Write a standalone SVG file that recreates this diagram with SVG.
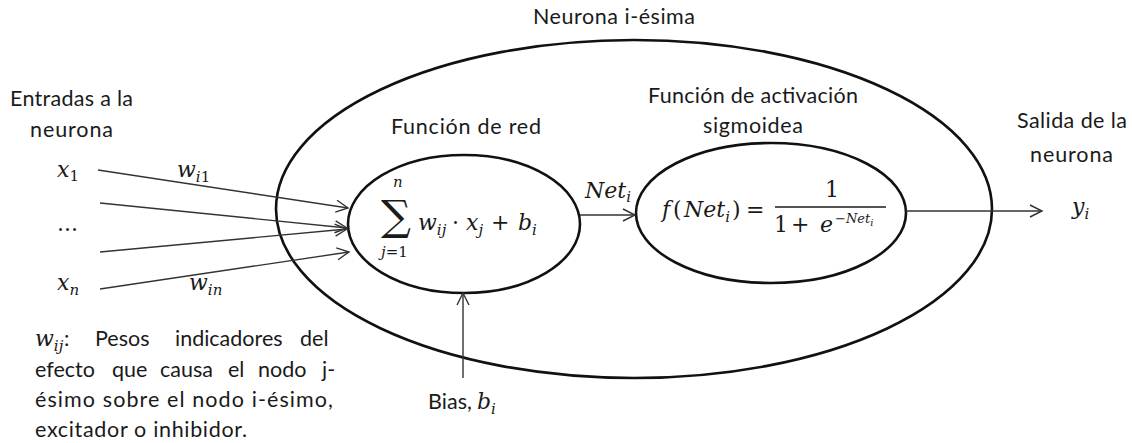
<svg xmlns="http://www.w3.org/2000/svg" width="1132" height="443" viewBox="0 0 1132 443">
<style>
.t{font-family:Lato,"Liberation Sans",sans-serif;font-size:21.5px;fill:#1a1a1a}
.m{font-family:"DejaVu Serif","Liberation Serif",serif;font-style:italic;font-size:22px;fill:#1a1a1a}
.mr{font-family:"DejaVu Serif","Liberation Serif",serif;font-style:normal;font-size:22px;fill:#1a1a1a}
.s{font-size:15px}
.ss{font-size:13px}
.ell{fill:none;stroke:#111;stroke-width:2.6}
.con{fill:none;stroke:#333;stroke-width:1.4}
</style>
<defs>
<marker id="ah" markerUnits="userSpaceOnUse" markerWidth="14" markerHeight="14" refX="12" refY="6" orient="auto" viewBox="0 0 14 14" overflow="visible">
<path d="M0,0 L12,6 L0,12" fill="none" stroke="#333" stroke-width="1.4"/>
</marker>
</defs>
<rect width="1132" height="443" fill="#fff"/>

<g id="neurona">
<ellipse class="ell" cx="634" cy="209" rx="358" ry="169"/>
<text class="t" x="533" y="24" textLength="162">Neurona i-ésima</text>
</g>

<g id="funcion-red">
<ellipse class="ell" cx="464" cy="224" rx="116" ry="69"/>
<text class="t" x="391" y="134" textLength="150">Función de red</text>
<text class="mr" x="381" y="230" style="font-size:42px">∑</text>
<text class="m s" x="393" y="187">n</text>
<text class="mr s" x="381" y="257"><tspan font-style="italic">j</tspan>=1</text>
<text class="m" x="418" y="230">w<tspan class="s" dy="5">ij</tspan></text>
<text class="mr" x="452" y="230">·</text>
<text class="m" x="466" y="230">x<tspan class="s" dy="5">j</tspan></text>
<text class="mr" x="491" y="230">+</text>
<text class="m" x="518" y="230">b<tspan class="s" dy="5">i</tspan></text>
</g>

<g id="funcion-activacion">
<ellipse class="ell" cx="771" cy="213" rx="135" ry="70"/>
<text class="t" x="648" y="103" textLength="210">Función de activación</text>
<text class="t" x="703" y="133" textLength="100">sigmoidea</text>
<text class="m" x="662" y="217">f</text>
<text class="mr" x="673" y="217">(</text>
<text class="m" x="684" y="217">Net<tspan class="s" dy="5">i</tspan></text>
<text class="mr" x="732" y="217">)</text>
<text class="mr" x="746" y="217">=</text>
<text class="mr" x="832" y="197" text-anchor="middle">1</text>
<line x1="775" y1="207" x2="886" y2="207" stroke="#1a1a1a" stroke-width="1.5"/>
<text class="mr" x="774" y="232">1</text>
<text class="mr" x="791" y="232">+</text>
<text class="m" x="820" y="232">e</text>
<text class="mr ss" x="835" y="223">−<tspan font-style="italic">Net</tspan><tspan font-style="italic" dy="3" style="font-size:10px">i</tspan></text>
</g>

<g id="entradas">
<text class="t" x="10" y="106" textLength="123">Entradas a la</text>
<text class="t" x="30" y="137" textLength="83">neurona</text>
<text class="m" x="57" y="177">x<tspan class="s" dy="4" font-style="normal">1</tspan></text>
<text class="mr" x="57" y="231">...</text>
<text class="m" x="57" y="290">x<tspan class="s" dy="5">n</tspan></text>
<text class="m" x="177" y="177">w<tspan class="s" dy="5">i</tspan><tspan class="s" font-style="normal">1</tspan></text>
<text class="m" x="189" y="290">w<tspan class="s" dy="5">in</tspan></text>
</g>

<g id="salida">
<text class="t" x="1017" y="128" textLength="110">Salida de la</text>
<text class="t" x="1030" y="162" textLength="83">neurona</text>
<text class="m" x="1072" y="214">y<tspan class="s" dy="5">i</tspan></text>
</g>

<g id="bias">
<text class="t" x="428" y="409" textLength="44">Bias,</text>
<text class="m" x="477" y="409">b<tspan class="s" dy="5">i</tspan></text>
</g>

<g id="nota-pesos">
<text class="m" x="35" y="346">w<tspan class="s" dy="5">ij</tspan></text>
<text class="t" x="64" y="346">:</text>
<text class="t" x="95" y="346">Pesos</text>
<text class="t" x="175" y="346">indicadores</text>
<text class="t" x="300" y="346">del</text>
<text class="t" x="35" y="377">efecto</text>
<text class="t" x="112" y="377">que</text>
<text class="t" x="160" y="377">causa</text>
<text class="t" x="228" y="377">el</text>
<text class="t" x="258" y="377">nodo</text>
<text class="t" x="322" y="377">j-</text>
<text class="t" x="35" y="407" textLength="298">ésimo sobre el nodo i-ésimo,</text>
<text class="t" x="35" y="437" textLength="212">excitador o inhibidor.</text>
</g>

<g id="conectores">
<line class="con" x1="98" y1="170" x2="348" y2="208" marker-end="url(#ah)"/>
<line class="con" x1="100" y1="203" x2="347" y2="228" marker-end="url(#ah)"/>
<line class="con" x1="100" y1="252" x2="347" y2="229" marker-end="url(#ah)"/>
<line class="con" x1="100" y1="289" x2="349" y2="252" marker-end="url(#ah)"/>
<line class="con" x1="580" y1="215" x2="635" y2="215" marker-end="url(#ah)"/>
<text class="m" x="585" y="198">Net<tspan class="s" dy="4">i</tspan></text>
<line class="con" x1="906" y1="211" x2="1042" y2="211" marker-end="url(#ah)"/>
<line class="con" x1="463" y1="378" x2="463" y2="293" marker-end="url(#ah)"/>
</g>
</svg>
